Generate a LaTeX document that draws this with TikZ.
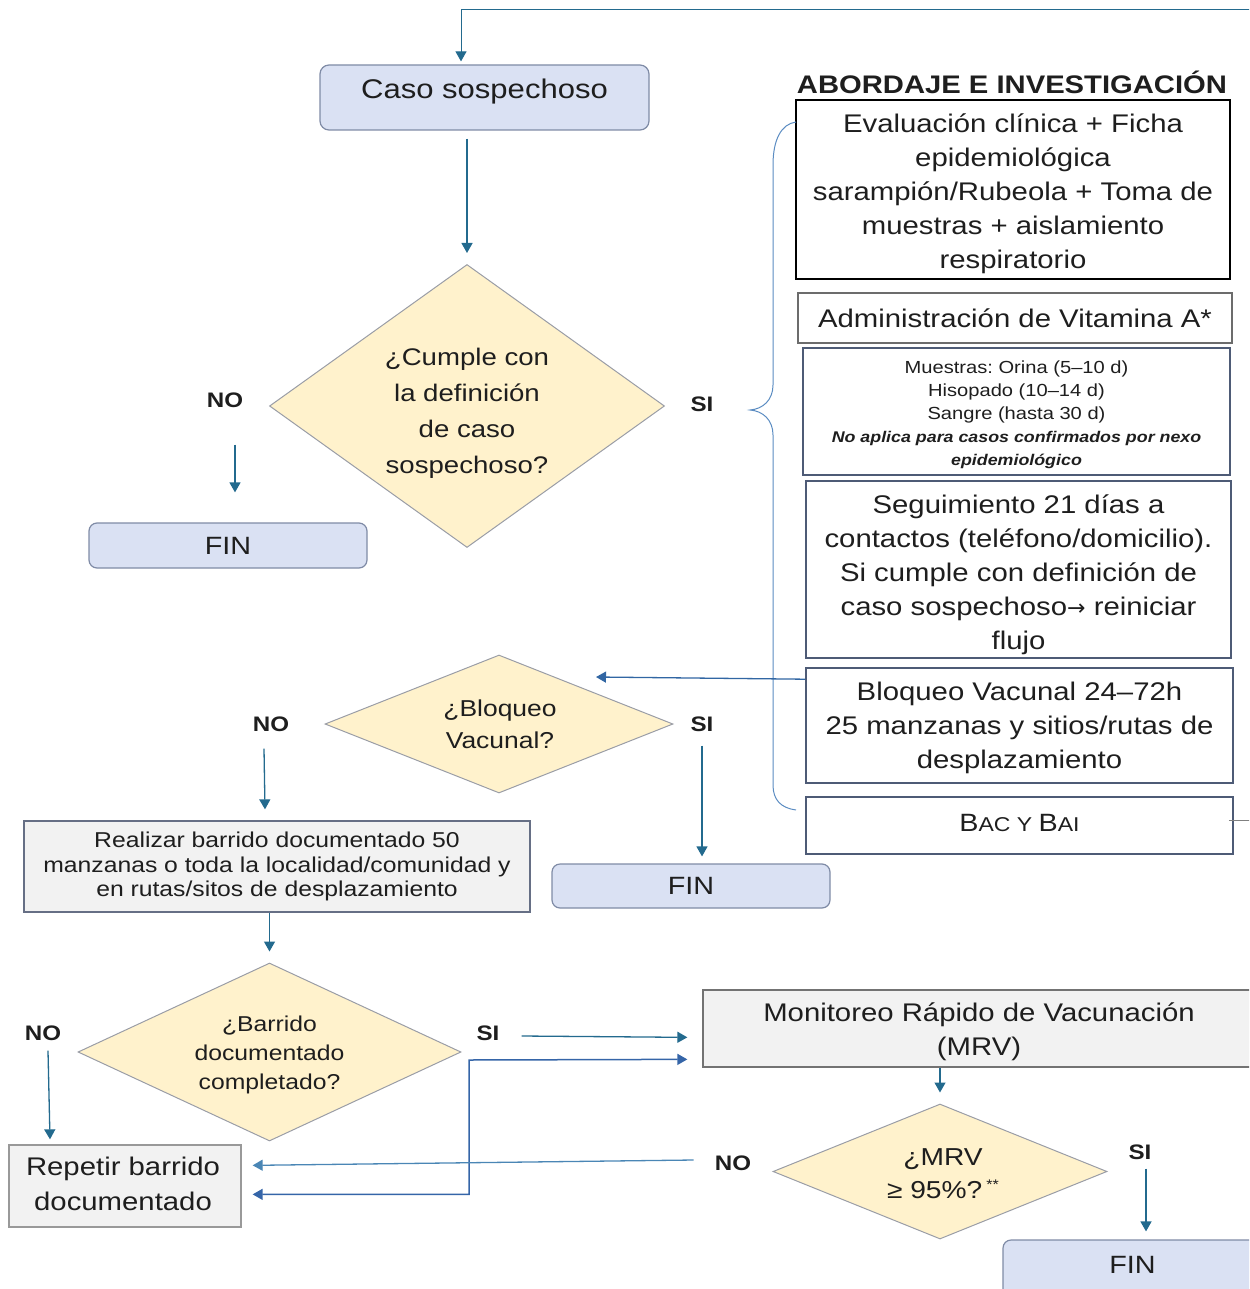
\documentclass[tikz,border=0pt]{standalone}
\usepackage{fontspec}
\setmainfont{Liberation Sans}[FakeStretch=1.15]
\newfontfamily\dvarrow{DejaVu Sans}
\usetikzlibrary{arrows.meta,shapes.geometric,calc}
\definecolor{lav}{HTML}{DAE1F3}
\definecolor{lavb}{HTML}{7F8BA6}
\definecolor{dfill}{HTML}{FFF2CC}
\definecolor{dbord}{HTML}{9A9DA6}
\definecolor{gfill}{HTML}{F2F2F2}
\definecolor{acol}{HTML}{236A8E}
\definecolor{acolD}{HTML}{3565A8}
\definecolor{acolL}{HTML}{4A86B5}
\definecolor{bcol}{HTML}{5B8CC2}
\definecolor{slate}{HTML}{4E5B76}
\definecolor{tx}{HTML}{1E1E1E}
\newcommand\myfs[2]{\fontsize{#1}{#2}\selectfont}
\frenchspacing
\begin{document}
\begin{tikzpicture}[x=1pt,y=-1pt,
  every node/.style={text=tx, inner sep=0pt, align=center},
  rbox/.style={draw=lavb, fill=lav, rounded corners=9pt, line width=1.2pt},
  sbox/.style={draw=slate, line width=1.6pt},
  gbox/.style={fill=gfill, line width=1.3pt},
  dia/.style={diamond, draw=dbord, fill=dfill, line width=1pt},
  btxt/.style={font=\myfs{25.5}{34}},
  lbl/.style={font=\bfseries\myfs{21}{24}},
  arr/.style={draw=acol, line width=1.3pt, -{Triangle[length=10pt,width=11pt]}},
  arrboth/.style={draw=acolD, line width=1.5pt, {Triangle[length=10pt,width=11pt]}-{Triangle[length=10pt,width=11pt]}},
]
\useasboundingbox (0,0) rectangle (1249,1289);
\clip (0,0) rectangle (1249,1289);

% --- top ---
\node[rbox, minimum width=329pt, minimum height=65pt] (caso) at (484.5,97.5) {};
\node[font=\myfs{27}{32}] (casot) at (484.5,92) {Caso sospechoso};
\node[dia, minimum width=395pt, minimum height=283pt] (d1) at (467,406) {};
\node[font=\myfs{24}{36}] (d1t) at (467,413) {¿Cumple con\\la definición\\de caso\\sospechoso?};
\node[lbl] (no1) at (225,400) {NO};
\node[lbl] (si1) at (702,404) {SI};
\node[rbox, rounded corners=8pt, minimum width=278pt, minimum height=45pt] (fin1) at (228,545.5) {\raisebox{-1pt}{\myfs{25}{30}FIN}};

% --- right column ---
\node[font=\bfseries\myfs{25.4}{28}] (title) at (1012,82.5) {ABORDAJE E INVESTIGACIÓN};
\node[draw=black, line width=2.2pt, minimum width=434pt, minimum height=179pt] (b1) at (1013,189.5) {};
\node[btxt] (b1t) at (1013,194) {Evaluación clínica + Ficha\\epidemiológica\\sarampión/Rubeola + Toma de\\muestras + aislamiento\\respiratorio};
\node[draw=gray!85!black, line width=1.5pt, minimum width=434pt, minimum height=50pt, btxt] (b2) at (1015,318)
  {Administración de Vitamina A*};
\node[sbox, line width=2pt, minimum width=427pt, minimum height=127pt] (b3) at (1016.5,411.5) {};
\node[font=\myfs{17.5}{23}] (b3t) at (1016.5,415)
  {Muestras: Orina (5–10 d)\\Hisopado (10–14 d)\\Sangre (hasta 30 d)\\
   \bfseries\itshape\myfs{15.5}{21}No aplica para casos confirmados por nexo\\
   \bfseries\itshape\myfs{15.5}{21}epidemiológico};
\node[sbox, minimum width=425pt, minimum height=177pt] (b4) at (1018.5,569.5) {};
\node[btxt] (b4t) at (1018.5,574.5)
  {Seguimiento 21 días a\\contactos (teléfono/domicilio).\\Si cumple con definición de\\caso sospechoso{\dvarrow\myfs{22}{34}→} reiniciar\\flujo};
\node[sbox, minimum width=427pt, minimum height=115pt] (b5) at (1019.5,725.5) {};
\node[btxt] (b5t) at (1019.5,727.5) {Bloqueo Vacunal 24–72h\\25 manzanas y sitios/rutas de\\desplazamiento};
\node[sbox, minimum width=427pt, minimum height=57pt] (b6) at (1019.5,825.5)
  {\raisebox{5pt}{{\myfs{25}{30}B}{\myfs{20}{30}AC Y }{\myfs{25}{30}B}{\myfs{20}{30}AI}}};
\coordinate (b6tail) at (1262,820);
\draw[gray, line width=1pt] ($(b6.east)+(-5,-5.5)$) -- (b6tail);

% brace
\draw[bcol, line width=1pt] (796,122) .. controls (781,124) and (773,140) .. (773,165) -- (773,385)
  .. controls (773,400) and (763,409) .. (750,410) .. controls (763,411) and (773,420) .. (773,435)
  -- (773,785) .. controls (773,800) and (781,808) .. (796,810);

% --- middle ---
\node[dia, minimum width=348pt, minimum height=138pt] (d2) at (499,724) {};
\node[font=\myfs{23}{32}] (d2t) at (500,724) {¿Bloqueo\\Vacunal?};
\node[lbl] (no2) at (271,724) {NO};
\node[lbl] (si2) at (702,724) {SI};
\node[rbox, rounded corners=8pt, minimum width=278pt, minimum height=44pt] (fin2) at (691,886) {\myfs{25}{30}FIN};
\node[gbox, draw=lavb!80!black, minimum width=506pt, minimum height=91pt, font=\myfs{21.5}{24.5}] (realizar) at (277,866.5)
  {Realizar barrido documentado 50\\manzanas o toda la localidad/comunidad y\\en rutas/sitos de desplazamiento};

% --- bottom ---
\node[dia, minimum width=383pt, minimum height=178pt] (d3) at (269.5,1052) {};
\node[font=\myfs{21.5}{29}] (d3t) at (269.5,1055) {¿Barrido\\documentado\\completado?};
\node[lbl] (no3) at (43,1033) {NO};
\node[lbl] (si3) at (488,1033) {SI};
\node[gbox, draw=gray!80, minimum width=232pt, minimum height=82pt] (repetir) at (125,1186) {};
\node[font=\myfs{25.5}{35}] (rept) at (123,1184) {Repetir barrido\\documentado};
\node[gbox, draw=gray!90!black, minimum width=559pt, minimum height=77pt] (mrv) at (982.5,1028.5) {};
\node[btxt] (mrvt) at (979,1032) {Monitoreo Rápido de Vacunación\\(MRV)};
\node[dia, minimum width=334pt, minimum height=135pt] (d4) at (940,1171.5) {};
\node[font=\myfs{24.5}{33}] (d4t) at (943,1174) {¿MRV\\≥ 95\%?\,\raisebox{9pt}{\myfs{14}{14}**}};
\node[lbl] (no4) at (733,1163) {NO};
\node[lbl] (si4) at (1140,1152) {SI};
\node[rbox, rounded corners=8pt, minimum width=259pt, minimum height=60pt] (fin3) at (1132.5,1270) {\raisebox{10pt}{\myfs{25}{30}FIN}};

% --- connectors ---
\coordinate (topR) at (1262,10);
\draw[arr, line width=1pt] (topR) -| ($(caso.north)+(-23.5,-3)$);
\draw[arr, shorten <=8pt, shorten >=11pt] (caso.south -| d1.north) -- (d1.north);
\draw[arr] ($(no1.south)+(10,37)$) -- ($(fin1.north -| no1.south)+(10,-30)$);
\coordinate (d2in) at (596,677);
\draw[arr, draw=acolD!80!acol] ($(b5.north west)+(0,12)$) -- (d2in);
\draw[arr] ($(no2.south)+(-7,17)$) -- ($(realizar.north -| no2.south)+(-6,-11)$);
\draw[arr] ($(si2.south)+(0,14)$) -- ($(fin2.north -| si2.south)+(0,-7)$);
\draw[arr, shorten >=11pt] (realizar.south -| d3.north) -- (d3.north);
\draw[arr] ($(no3.south)+(5,10)$) -- ($(repetir.north -| no3.south)+(7,-5)$);
\draw[arr] ($(si3.east)+(22,3)$) -- ($(mrv.north west)+(-15,48)$);
\coordinate (elb) at (469,1060);
\draw[arrboth] ($(mrv.north west)+(-15,70)$) -- (elb) |- ($(repetir.north east)+(11,50)$);
\draw[arr, draw=acolL] ($(no4.west)+(-21,-3)$) -- ($(repetir.north east)+(11,21)$);
\draw[arr, shorten >=11pt] (mrv.south -| d4.north) -- (d4.north);
\draw[arr] ($(si4.south)+(6,9)$) -- ($(fin3.north -| si4.south)+(6,-8)$);
\end{tikzpicture}
\end{document}
